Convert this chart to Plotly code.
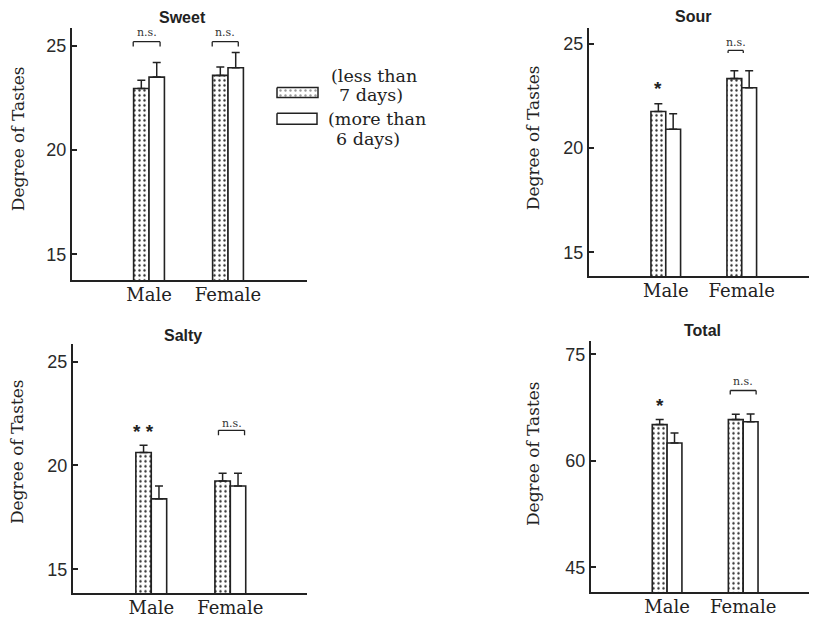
import plotly.graph_objects as go

W, H = 817, 618
OFF = 8  # page body margin of the html page
FW, FH = W - OFF, H - OFF

categories = ["Male", "Female"]
legend_less = ["(less than", "7 days)"]
legend_more = ["(more than", "6 days)"]

sweet_less = [22.95, 23.58]
sweet_less_err = [0.40, 0.40]
sweet_more = [23.50, 23.95]
sweet_more_err = [0.70, 0.73]

sour_less = [21.75, 23.33]
sour_less_err = [0.38, 0.38]
sour_more = [20.90, 22.89]
sour_more_err = [0.75, 0.82]

salty_less = [20.62, 19.25]
salty_less_err = [0.35, 0.37]
salty_more = [18.39, 19.01]
salty_more_err = [0.62, 0.61]

total_less = [65.1, 65.8]
total_less_err = [0.70, 0.75]
total_more = [62.5, 65.5]
total_more_err = [1.40, 1.08]

taste_ticks = [15, 20, 25]
total_ticks = [45, 60, 75]

sig_sweet = ["n.s.", "n.s."]
sig_sour = ["*", "n.s."]
sig_salty = ["* *", "n.s."]
sig_total = ["*", "n.s."]

INK = "#222222"
SERIF = "DejaVu Serif"
SANS = "Liberation Sans"


def px(x):
    return (x - OFF) / FW


def py(y):
    return 1 - (y - OFF) / FH


panels = [
    dict(title="Sweet", less=sweet_less, less_err=sweet_less_err, more=sweet_more, more_err=sweet_more_err,
         ticks=taste_ticks, sig=sig_sweet,
         xdom=[px(72), px(307)], ydom=[py(282), py(28)], xr=[-0.975, 2.0], yr=[13.76, 25.86],
         title_xy=(182, 18), ylab_xy=(18, 140),
         sig_pos=[dict(text_y=25.62, top=25.2, end=24.97, x0=-0.2, x1=0.14),
                  dict(text_y=25.62, top=25.2, end=24.97, x0=-0.2, x1=0.13)]),
    dict(title="Sour", less=sour_less, less_err=sour_less_err, more=sour_more, more_err=sour_more_err,
         ticks=taste_ticks, sig=sig_sour,
         xdom=[px(589), px(817)], ydom=[py(278), py(28)], xr=[-1.01, 1.99], yr=[13.86, 25.76],
         title_xy=(693, 17), ylab_xy=(533, 139),
         sig_pos=[dict(text_y=22.85), dict(text_y=25.05, top=24.68, end=24.56, x0=-0.18, x1=0.02)]),
    dict(title="Salty", less=salty_less, less_err=salty_less_err, more=salty_more, more_err=salty_more_err,
         ticks=taste_ticks, sig=sig_salty,
         xdom=[px(73), px(307)], ydom=[py(597), py(346)], xr=[-0.99, 1.97], yr=[13.85, 25.86],
         title_xy=(183, 338), ylab_xy=(17, 455),
         sig_pos=[dict(text_y=21.65), dict(text_y=22.0, top=21.69, end=21.45, x0=-0.15, x1=0.18)]),
    dict(title="Total", less=total_less, less_err=total_less_err, more=total_more, more_err=total_more_err,
         ticks=total_ticks, sig=sig_total,
         xdom=[px(591), px(817)], ydom=[py(596), py(343)], xr=[-1.0, 1.97], yr=[41.5, 76.9],
         title_xy=(702, 333), ylab_xy=(533, 457),
         sig_pos=[dict(text_y=67.8), dict(text_y=71.1, top=69.9, end=69.35, x0=-0.17, x1=0.17)]),
]

BW = 0.195
dot_pattern = dict(shape=".", size=5, solidity=0.18, fgcolor="#333333", bgcolor="white", fillmode="replace")

fig = go.Figure()
annotations = []
shapes = []

for i, p in enumerate(panels, start=1):
    xa = "x" if i == 1 else f"x{i}"
    ya = "y" if i == 1 else f"y{i}"
    err_style = dict(type="data", symmetric=False, arrayminus=[0, 0], color=INK, thickness=1.5, width=4)
    fig.add_trace(go.Bar(
        x=categories, y=p["less"], xaxis=xa, yaxis=ya, width=BW, offset=-BW,
        marker=dict(color="white", pattern=dot_pattern, line=dict(color=INK, width=1.6)),
        error_y=dict(array=p["less_err"], **err_style), showlegend=False))
    fig.add_trace(go.Bar(
        x=categories, y=p["more"], xaxis=xa, yaxis=ya, width=BW, offset=0,
        marker=dict(color="white", line=dict(color=INK, width=1.6)),
        error_y=dict(array=p["more_err"], **err_style), showlegend=False))

    xkey = "xaxis" if i == 1 else f"xaxis{i}"
    ykey = "yaxis" if i == 1 else f"yaxis{i}"
    fig.update_layout({
        xkey: dict(domain=p["xdom"], anchor=ya, range=p["xr"], type="category", showline=True,
                   linecolor=INK, linewidth=2, ticks="", showgrid=False, zeroline=False,
                   ticklabelstandoff=-3,
                   tickfont=dict(family=SERIF, size=18, color=INK), fixedrange=True),
        ykey: dict(domain=p["ydom"], anchor=xa, range=p["yr"], tickvals=p["ticks"], ticks="inside",
                   ticklen=5, tickwidth=1.5, tickcolor=INK, showline=True, linecolor=INK, linewidth=2,
                   showgrid=False, zeroline=False, fixedrange=True,
                   tickfont=dict(family=SANS, size=18, color="#2a2a2a")),
    })

    tx, ty = p["title_xy"]
    annotations.append(dict(text=p["title"], x=px(tx), y=py(ty), xref="paper", yref="paper",
                            showarrow=False, font=dict(family=SANS, size=16, color=INK, weight="bold"),
                            xanchor="center", yanchor="middle"))
    lx, ly = p["ylab_xy"]
    annotations.append(dict(text="Degree of Tastes", x=px(lx), y=py(ly), xref="paper", yref="paper",
                            textangle=-90, showarrow=False, font=dict(family=SERIF, size=17, color=INK),
                            xanchor="center", yanchor="middle"))

    for ci, (mark, pos) in enumerate(zip(p["sig"], p["sig_pos"])):
        if mark == "n.s.":
            cx = (pos["x0"] + pos["x1"]) / 2 + ci
            annotations.append(dict(text=mark, x=cx, y=pos["text_y"], xref=xa, yref=ya, showarrow=False,
                                    font=dict(family=SERIF, size=11, color="#333333"),
                                    xanchor="center", yanchor="middle"))
            x0, x1 = pos["x0"] + ci, pos["x1"] + ci
            line = dict(color=INK, width=1.3)
            shapes.append(dict(type="line", xref=xa, yref=ya, x0=x0, x1=x1, y0=pos["top"], y1=pos["top"], line=line))
            shapes.append(dict(type="line", xref=xa, yref=ya, x0=x0, x1=x0, y0=pos["top"], y1=pos["end"], line=line))
            shapes.append(dict(type="line", xref=xa, yref=ya, x0=x1, x1=x1, y0=pos["top"], y1=pos["end"], line=line))
        else:
            annotations.append(dict(text=mark, x=ci - BW / 2, y=pos["text_y"], xref=xa, yref=ya, showarrow=False,
                                    font=dict(family=SANS, size=19, color=INK, weight="bold"),
                                    xanchor="center", yanchor="middle"))

# legend swatches on an overlay axis in page pixel units
fig.add_trace(go.Scatter(x=[277, 318, 318, 277, 277], y=[88, 88, 98, 98, 88], xaxis="x5", yaxis="y5",
                         mode="lines", fill="toself", fillcolor="white",
                         fillpattern=dict(shape=".", size=5, solidity=0.18, fgcolor="#333333", bgcolor="white"),
                         line=dict(color=INK, width=1.5), showlegend=False, hoverinfo="skip"))
fig.add_trace(go.Scatter(x=[277, 317, 317, 277, 277], y=[114, 114, 125, 125, 114], xaxis="x5", yaxis="y5",
                         mode="lines", fill="toself", fillcolor="white",
                         line=dict(color=INK, width=1.5), showlegend=False, hoverinfo="skip"))
fig.update_layout(
    xaxis5=dict(domain=[0, 1], range=[OFF, W], visible=False, fixedrange=True, anchor="y5"),
    yaxis5=dict(domain=[0, 1], range=[H, OFF], visible=False, fixedrange=True, anchor="x5"),
)

legend_lines = [(legend_less[0], 329, 76), (legend_less[1], 337, 95.5),
                (legend_more[0], 326, 120), (legend_more[1], 334, 139.5)]
for txt, x, y in legend_lines:
    annotations.append(dict(text=txt, x=px(x), y=py(y), xref="paper", yref="paper", showarrow=False,
                            font=dict(family=SERIF, size=17.5, color=INK), xanchor="left", yanchor="middle"))

fig.update_layout(
    width=FW, height=FH, margin=dict(l=0, r=0, t=0, b=0),
    paper_bgcolor="white", plot_bgcolor="rgba(0,0,0,0)",
    barmode="overlay", showlegend=False,
    annotations=annotations, shapes=shapes,
)

fig.write_html("out.html")
